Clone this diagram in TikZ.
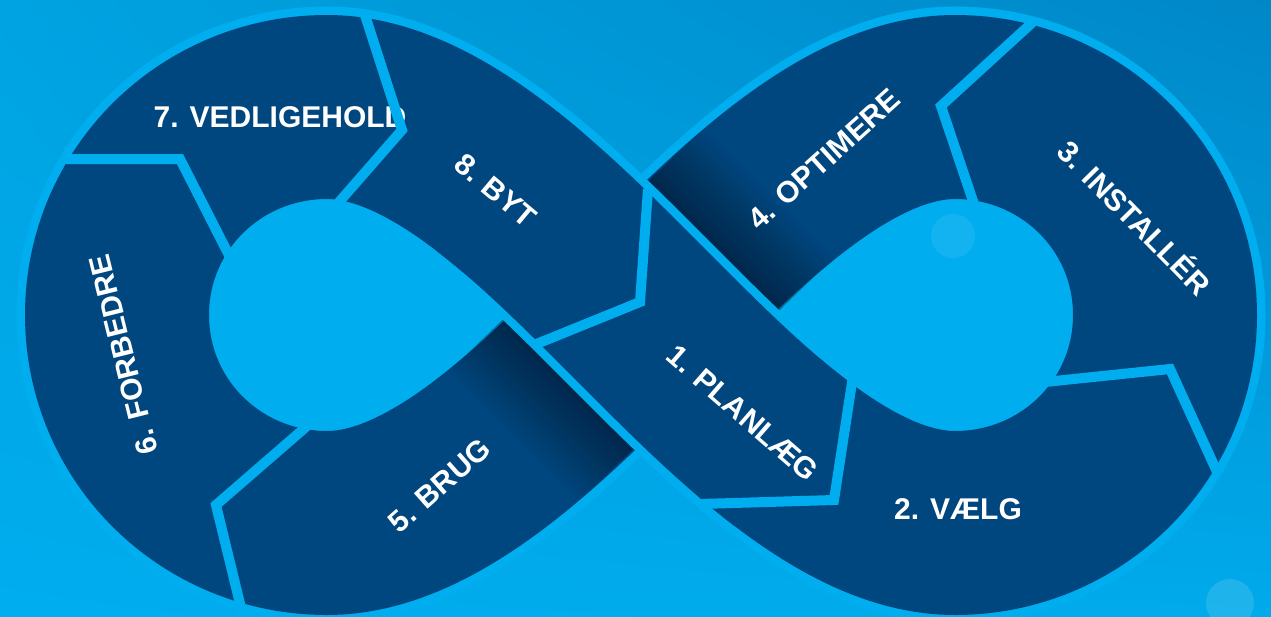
\documentclass[tikz,border=0pt]{standalone}
\usepackage{fontspec}
\setmainfont{Liberation Sans}
\usetikzlibrary{shadings}
\definecolor{navy}{HTML}{00467F}
\definecolor{lite}{HTML}{00AEEF}
\definecolor{bgUL}{HTML}{00A3E1}
\definecolor{bgUR}{HTML}{0087C8}
\definecolor{bgLL}{HTML}{00ADEE}
\definecolor{bgLR}{HTML}{00AAEB}
\begin{document}
\begin{tikzpicture}[x=1pt,y=-1pt,
  band/.style={draw=navy,line width=184pt},
  bandedge/.style={draw=lite,line width=201pt},
  sep/.style={draw=lite,line width=10pt},
  hole/.style={fill=lite},
  lbl/.style={text=white,font=\bfseries\fontsize{30pt}{30pt}\selectfont,text height=21.5pt,text depth=0pt,inner sep=0pt}]
\useasboundingbox (0,0) rectangle (1271,616);
\shade[upper left=bgUL,upper right=bgUR,lower left=bgLL,lower right=bgLR] (0,0) rectangle (1271,616);
\fill[white,opacity=0.12] (1230,603) circle[radius=24pt];
% geometry
\coordinate (X) at (641,315);
\coordinate (CL) at (327,315);
\coordinate (CR) at (955,315);
% hole colour under the band
\fill[hole] (CL) circle[radius=200pt];
\fill[hole] (CL) -- (468.4,173.6) -- (X) -- (468.4,456.4) -- cycle;
\fill[hole] (CR) circle[radius=200pt];
\fill[hole] (CR) -- (813.6,173.6) -- (X) -- (813.6,456.4) -- cycle;
% bright outline and band
\foreach \st in {bandedge,band}{
\draw[\st] (X) .. controls (549.1,223.1) and (437,107) .. (327,107)
 .. controls (211,107) and (117,199) .. (117,315)
 .. controls (117,431) and (211,523) .. (327,523)
 .. controls (437,523) and (549.1,406.9) .. (X)
 .. controls (732.9,223.1) and (845,107) .. (955,107)
 .. controls (1071,107) and (1165,199) .. (1165,315)
 .. controls (1165,431) and (1071,523) .. (955,523)
 .. controls (845,523) and (732.9,406.9) .. (X);
}
% shadow of the upper strip on the lower strip
\begin{scope}
\clip (575.9,249.9) -- (699.9,132.0) -- (754.1,89.6) -- (860.4,239.8) -- (819.2,272.2)
  -- (706.1,380.1) -- (582.1,498.0) -- (527.9,540.4) -- (421.6,390.2) -- (462.8,357.8) -- cycle;
\foreach \w in {190,200,...,350}
  \draw[draw=black,opacity=0.026,line width=\w pt]
    (759.54,427.91) .. controls (717.75,392.39) and (677.76,351.76) .. (X)
    .. controls (604.24,278.24) and (564.25,237.61) .. (522.46,202.09);
\end{scope}
% upper strip across the crossing
\draw[bandedge] (759.54,427.91) .. controls (717.75,392.39) and (677.76,351.76) .. (X)
    .. controls (604.24,278.24) and (564.25,237.61) .. (522.46,202.09);
\draw[band] (791.21,453.46) .. controls (737.95,412.95) and (686.95,360.95) .. (X)
    .. controls (595.05,269.05) and (544.05,217.05) .. (490.79,176.54);
\fill[white,opacity=0.07] (953,236) circle[radius=22pt];
% labels
\node[lbl,rotate=-41] (l1) at (743,413) {1. PLANLÆG};
\node[lbl] (l2) at (958,509) {2. VÆLG};
\node[lbl,rotate=-45.5] (l3) at (1134,218) {3. INSTALLÉR};
\node[lbl,rotate=42] (l4) at (824,159) {4. OPTIMERE};
\node[lbl,rotate=41.5] (l5) at (439,485) {5. BRUG};
\node[lbl,rotate=104] (l6) at (123,355) {6. FORBEDRE};
\node[lbl] (l7) at (280,117) {7. VEDLIGEHOLD};
\node[lbl,rotate=-40] (l8) at (496,190) {8. BYT};
% separators
\draw[sep] (648,189) -- (640,302) -- (534,345);
\draw[sep] (853,376) -- (834,500) -- (700,504);
\draw[sep] (1045,382) -- (1170,369) -- (1218,474);
\draw[sep] (976,210) -- (941,106) -- (1034,21);
\draw[sep] (314,420) -- (216,505) -- (243,616);
\draw[sep] (234,265) -- (180,159) -- (66,159);
\draw[sep] (333,209) -- (402,130) -- (364,12);
\end{tikzpicture}
\end{document}
